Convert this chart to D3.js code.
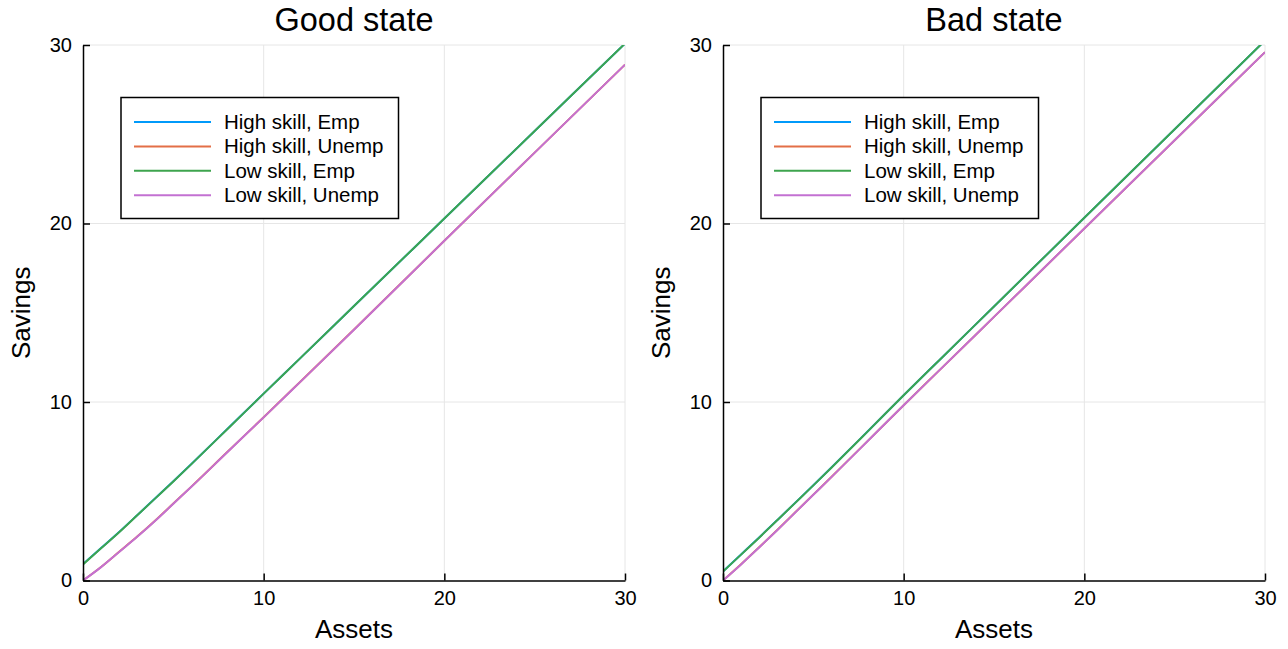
<!DOCTYPE html>
<html>
<head>
<meta charset="utf-8">
<script src="https://cdn.jsdelivr.net/npm/d3@7"></script>
<style>
  html, body { margin: 0; padding: 0; background: #fff; }
  svg { display: block; font-family: "Liberation Sans", Arial, Helvetica, sans-serif; }
</style>
</head>
<body>
<svg id="chart" width="1288" height="649"></svg>
<script>
// ---- data ----
const assets = [0, 1, 2, 3, 4, 5, 6, 8, 10, 12, 15, 20, 25, 30];
const seriesNames = ["High skill, Emp", "High skill, Unemp", "Low skill, Emp", "Low skill, Unemp"];
const seriesColors = ["#009AFA", "#E36F47", "#3EA44E", "#C371D2"];
const panelTitles = ["Good state", "Bad state"];

const goodHighEmp   = [0.92, 1.82, 2.72, 3.66, 4.61, 5.56, 6.53, 8.50, 10.47, 12.43, 15.38, 20.28, 25.18, 30.08];
const goodHighUnemp = [0.00, 0.76, 1.61, 2.46, 3.36, 4.31, 5.26, 7.21, 9.15, 11.11, 14.06, 19.03, 23.97, 28.90];
const goodLowEmp    = [0.90, 1.80, 2.70, 3.65, 4.60, 5.55, 6.52, 8.49, 10.47, 12.43, 15.38, 20.28, 25.18, 30.08];
const goodLowUnemp  = [0.00, 0.75, 1.60, 2.45, 3.35, 4.30, 5.25, 7.20, 9.14, 11.10, 14.05, 19.03, 23.97, 28.90];

const badHighEmp    = [0.51, 1.46, 2.41, 3.38, 4.36, 5.34, 6.33, 8.35, 10.38, 12.37, 15.35, 20.32, 25.28, 30.25];
const badHighUnemp  = [0.00, 0.91, 1.86, 2.83, 3.82, 4.81, 5.80, 7.81, 9.82, 11.80, 14.77, 19.72, 24.66, 29.60];
const badLowEmp     = [0.50, 1.45, 2.40, 3.37, 4.35, 5.33, 6.32, 8.34, 10.38, 12.37, 15.35, 20.32, 25.28, 30.25];
const badLowUnemp   = [0.00, 0.90, 1.85, 2.82, 3.81, 4.80, 5.79, 7.80, 9.82, 11.80, 14.77, 19.72, 24.66, 29.60];

const xTicks = [0, 10, 20, 30];
const yTicks = [0, 10, 20, 30];
const xLabel = "Assets";
const yLabel = "Savings";

const panels = [
  { title: panelTitles[0], series: [goodHighEmp, goodHighUnemp, goodLowEmp, goodLowUnemp] },
  { title: panelTitles[1], series: [badHighEmp, badHighUnemp, badLowEmp, badLowUnemp] }
];

// ---- layout ----
const svg = d3.select("#chart");
const panelOffsets = [83, 723];
const plotW = 542, plotTop = 45, plotBottom = 580.5;

panels.forEach((p, pi) => {
  const x0 = panelOffsets[pi];
  const x = d3.scaleLinear().domain([0, 30]).range([x0, x0 + plotW]);
  const y = d3.scaleLinear().domain([0, 30]).range([plotBottom, plotTop]);
  const g = svg.append("g");

  const clipId = "clip" + pi;
  svg.append("clipPath").attr("id", clipId)
    .append("rect").attr("x", x0).attr("y", plotTop).attr("width", plotW).attr("height", plotBottom - plotTop);

  // grid
  g.append("g").selectAll("line.gx").data(xTicks.filter(t => t > 0)).join("line")
    .attr("x1", d => x(d)).attr("x2", d => x(d)).attr("y1", plotTop).attr("y2", plotBottom)
    .attr("stroke", "#e6e6e6").attr("stroke-width", 1);
  g.append("g").selectAll("line.gy").data(yTicks.filter(t => t > 0)).join("line")
    .attr("x1", x0).attr("x2", x0 + plotW).attr("y1", d => y(d)).attr("y2", d => y(d))
    .attr("stroke", "#e6e6e6").attr("stroke-width", 1);

  // series lines
  const line = d3.line().x((d, i) => x(assets[i])).y(d => y(d)).curve(d3.curveMonotoneX);
  const lg = g.append("g").attr("clip-path", `url(#${clipId})`);
  p.series.forEach((s, si) => {
    lg.append("path").datum(s).attr("d", line)
      .attr("fill", "none").attr("stroke", seriesColors[si]).attr("stroke-width", 2);
  });

  // axes
  const xAxis = d3.axisBottom(x).tickValues(xTicks).tickSizeInner(-7).tickSizeOuter(0).tickPadding(10);
  const yAxis = d3.axisLeft(y).tickValues(yTicks).tickSizeInner(-7).tickSizeOuter(0).tickPadding(11);
  const gx = g.append("g").attr("transform", `translate(0,${plotBottom})`).call(xAxis);
  const gy = g.append("g").attr("transform", `translate(${x0},0)`).call(yAxis);
  [gx, gy].forEach(ax => {
    ax.select(".domain").attr("stroke", "#000").attr("stroke-width", 1.5);
    ax.selectAll(".tick line").attr("stroke", "#000").attr("stroke-width", 1.5);
    ax.selectAll(".tick text").attr("fill", "#000").style("font-size", "20px")
      .style("font-family", "Liberation Sans, Arial, sans-serif");
  });

  // title
  g.append("text").attr("x", x0 + plotW / 2).attr("y", 31).attr("text-anchor", "middle")
    .style("font-size", "32.5px").attr("fill", "#000").text(p.title);
  // axis labels
  g.append("text").attr("x", x0 + plotW / 2).attr("y", 638).attr("text-anchor", "middle")
    .style("font-size", "26px").attr("fill", "#000").text(xLabel);
  g.append("text").attr("transform", `translate(${x0 - 53},${(plotTop + plotBottom) / 2}) rotate(-90)`)
    .attr("text-anchor", "middle").style("font-size", "26px").attr("fill", "#000").text(yLabel);

  // legend
  const lx = x0 + 38, ly = 97.5, lw = 277.5, lh = 121;
  const leg = g.append("g");
  leg.append("rect").attr("x", lx).attr("y", ly).attr("width", lw).attr("height", lh)
    .attr("fill", "#fff").attr("stroke", "#000").attr("stroke-width", 1.5);
  seriesNames.forEach((n, si) => {
    const cy = 122 + si * 24.4;
    leg.append("line").attr("x1", x0 + 51).attr("x2", x0 + 128).attr("y1", cy).attr("y2", cy)
      .attr("stroke", seriesColors[si]).attr("stroke-width", 2);
    leg.append("text").attr("x", x0 + 141).attr("y", cy + 7)
      .style("font-size", "20.5px").attr("fill", "#000").text(n);
  });
});
</script>
</body>
</html>
